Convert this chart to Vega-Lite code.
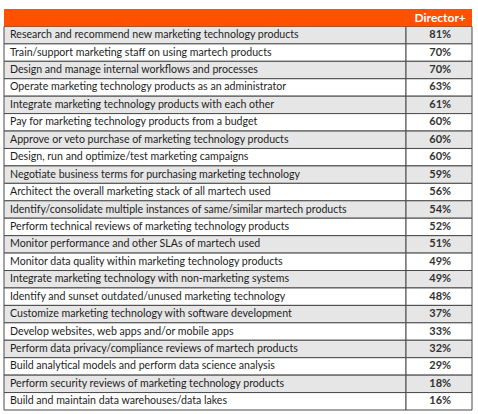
{
  "$schema": "https://vega.github.io/schema/vega-lite/v6.json",
  "width": 468,
  "height": 401,
  "autosize": "none",
  "padding": {"left": 4, "top": 9, "right": 6, "bottom": 4},
  "background": "white",
  "config": {"view": {"stroke": null}, "font": "Lato"},
  "datasets": {
    "rows": [
      {"task": "Research and recommend new marketing technology products", "pct": 0.81},
      {"task": "Train/support marketing staff on using martech products", "pct": 0.70},
      {"task": "Design and manage internal workflows and processes", "pct": 0.70},
      {"task": "Operate marketing technology products as an administrator", "pct": 0.63},
      {"task": "Integrate marketing technology products with each other", "pct": 0.61},
      {"task": "Pay for marketing technology products from a budget", "pct": 0.60},
      {"task": "Approve or veto purchase of marketing technology products", "pct": 0.60},
      {"task": "Design, run and optimize/test marketing campaigns", "pct": 0.60},
      {"task": "Negotiate business terms for purchasing marketing technology", "pct": 0.59},
      {"task": "Architect the overall marketing stack of all martech used", "pct": 0.56},
      {"task": "Identify/consolidate multiple instances of same/similar martech products", "pct": 0.54},
      {"task": "Perform technical reviews of marketing technology products", "pct": 0.52},
      {"task": "Monitor performance and other SLAs of martech used", "pct": 0.51},
      {"task": "Monitor data quality within marketing technology products", "pct": 0.49},
      {"task": "Integrate marketing technology with non-marketing systems", "pct": 0.49},
      {"task": "Identify and sunset outdated/unused marketing technology", "pct": 0.48},
      {"task": "Customize marketing technology with software development", "pct": 0.37},
      {"task": "Develop websites, web apps and/or mobile apps", "pct": 0.33},
      {"task": "Perform data privacy/compliance reviews of martech products", "pct": 0.32},
      {"task": "Build analytical models and perform data science analysis", "pct": 0.29},
      {"task": "Perform security reviews of marketing technology products", "pct": 0.18},
      {"task": "Build and maintain data warehouses/data lakes", "pct": 0.16}
    ],
    "header": [{"task": "Director+"}]
  },
  "encoding": {
    "y": {
      "field": "task",
      "type": "nominal",
      "axis": null,
      "scale": {
        "type": "band",
        "paddingInner": 0,
        "paddingOuter": 0,
        "domain": [
          "Director+",
          "Research and recommend new marketing technology products",
          "Train/support marketing staff on using martech products",
          "Design and manage internal workflows and processes",
          "Operate marketing technology products as an administrator",
          "Integrate marketing technology products with each other",
          "Pay for marketing technology products from a budget",
          "Approve or veto purchase of marketing technology products",
          "Design, run and optimize/test marketing campaigns",
          "Negotiate business terms for purchasing marketing technology",
          "Architect the overall marketing stack of all martech used",
          "Identify/consolidate multiple instances of same/similar martech products",
          "Perform technical reviews of marketing technology products",
          "Monitor performance and other SLAs of martech used",
          "Monitor data quality within marketing technology products",
          "Integrate marketing technology with non-marketing systems",
          "Identify and sunset outdated/unused marketing technology",
          "Customize marketing technology with software development",
          "Develop websites, web apps and/or mobile apps",
          "Perform data privacy/compliance reviews of martech products",
          "Build analytical models and perform data science analysis",
          "Perform security reviews of marketing technology products",
          "Build and maintain data warehouses/data lakes"
        ]
      }
    }
  },
  "layer": [
    {
      "data": {"name": "rows"},
      "transform": [
        {"window": [{"op": "row_number", "as": "rn"}]},
        {"calculate": "datum.rn % 2 == 1 ? 'shade' : 'plain'", "as": "stripe"}
      ],
      "mark": {"type": "rect", "stroke": "#4a4a4a", "strokeWidth": 1},
      "encoding": {
        "x": {"datum": 0, "type": "quantitative", "scale": {"domain": [0, 1]}, "axis": null},
        "x2": {"datum": 0.859},
        "fill": {
          "field": "stripe",
          "type": "nominal",
          "scale": {"domain": ["shade", "plain"], "range": ["#e6e6e6", "#ffffff"]},
          "legend": null
        }
      }
    },
    {
      "data": {"name": "rows"},
      "transform": [
        {"window": [{"op": "row_number", "as": "rn"}]},
        {"calculate": "datum.rn % 2 == 1 ? 'shade' : 'plain'", "as": "stripe"}
      ],
      "mark": {"type": "rect", "stroke": "#4a4a4a", "strokeWidth": 1},
      "encoding": {
        "x": {"datum": 0.859, "type": "quantitative"},
        "x2": {"datum": 1},
        "fill": {"field": "stripe", "type": "nominal", "legend": null}
      }
    },
    {
      "data": {"name": "header"},
      "mark": {"type": "rect", "fill": "#ff5100"},
      "encoding": {
        "x": {"datum": 0, "type": "quantitative"},
        "x2": {"datum": 1}
      }
    },
    {
      "data": {"name": "header"},
      "mark": {"type": "text", "align": "center", "baseline": "middle", "fontSize": 12, "fontWeight": "bold", "color": "white"},
      "encoding": {
        "x": {"datum": 0.932, "type": "quantitative"},
        "text": {"field": "task"}
      }
    },
    {
      "data": {"name": "rows"},
      "mark": {"type": "text", "align": "left", "baseline": "middle", "dx": 6, "fontSize": 10.6, "color": "#1e1e1e"},
      "encoding": {
        "x": {"datum": 0, "type": "quantitative"},
        "text": {"field": "task"}
      }
    },
    {
      "data": {"name": "rows"},
      "mark": {"type": "text", "align": "center", "baseline": "middle", "fontSize": 11, "fontWeight": "bold", "color": "#333333"},
      "encoding": {
        "x": {"datum": 0.932, "type": "quantitative"},
        "text": {"field": "pct", "type": "quantitative", "format": ".0%"}
      }
    }
  ]
}
